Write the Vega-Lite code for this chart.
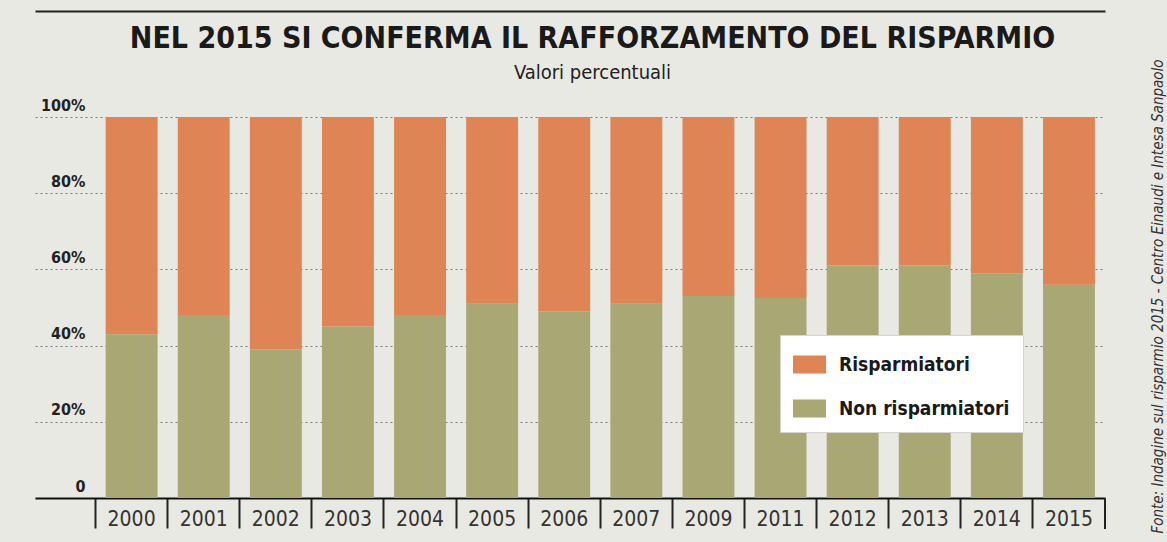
{
  "$schema": "https://vega.github.io/schema/vega-lite/v6.json",
  "autosize": "none",
  "width": 1070,
  "height": 381,
  "padding": {"left": 35, "top": 117, "right": 62, "bottom": 44},
  "background": "#e9e9e3",
  "config": {"view": {"stroke": null}, "font": "DejaVu Sans Condensed"},
  "data": {
    "values": [
      {"anno": "2000", "gruppo": "Non risparmiatori", "ord": 1, "valore": 43},
      {"anno": "2000", "gruppo": "Risparmiatori", "ord": 2, "valore": 57},
      {"anno": "2001", "gruppo": "Non risparmiatori", "ord": 1, "valore": 48},
      {"anno": "2001", "gruppo": "Risparmiatori", "ord": 2, "valore": 52},
      {"anno": "2002", "gruppo": "Non risparmiatori", "ord": 1, "valore": 39},
      {"anno": "2002", "gruppo": "Risparmiatori", "ord": 2, "valore": 61},
      {"anno": "2003", "gruppo": "Non risparmiatori", "ord": 1, "valore": 45},
      {"anno": "2003", "gruppo": "Risparmiatori", "ord": 2, "valore": 55},
      {"anno": "2004", "gruppo": "Non risparmiatori", "ord": 1, "valore": 48},
      {"anno": "2004", "gruppo": "Risparmiatori", "ord": 2, "valore": 52},
      {"anno": "2005", "gruppo": "Non risparmiatori", "ord": 1, "valore": 51},
      {"anno": "2005", "gruppo": "Risparmiatori", "ord": 2, "valore": 49},
      {"anno": "2006", "gruppo": "Non risparmiatori", "ord": 1, "valore": 49},
      {"anno": "2006", "gruppo": "Risparmiatori", "ord": 2, "valore": 51},
      {"anno": "2007", "gruppo": "Non risparmiatori", "ord": 1, "valore": 51},
      {"anno": "2007", "gruppo": "Risparmiatori", "ord": 2, "valore": 49},
      {"anno": "2009", "gruppo": "Non risparmiatori", "ord": 1, "valore": 53},
      {"anno": "2009", "gruppo": "Risparmiatori", "ord": 2, "valore": 47},
      {"anno": "2011", "gruppo": "Non risparmiatori", "ord": 1, "valore": 52.5},
      {"anno": "2011", "gruppo": "Risparmiatori", "ord": 2, "valore": 47.5},
      {"anno": "2012", "gruppo": "Non risparmiatori", "ord": 1, "valore": 61},
      {"anno": "2012", "gruppo": "Risparmiatori", "ord": 2, "valore": 39},
      {"anno": "2013", "gruppo": "Non risparmiatori", "ord": 1, "valore": 61},
      {"anno": "2013", "gruppo": "Risparmiatori", "ord": 2, "valore": 39},
      {"anno": "2014", "gruppo": "Non risparmiatori", "ord": 1, "valore": 59},
      {"anno": "2014", "gruppo": "Risparmiatori", "ord": 2, "valore": 41},
      {"anno": "2015", "gruppo": "Non risparmiatori", "ord": 1, "valore": 56},
      {"anno": "2015", "gruppo": "Risparmiatori", "ord": 2, "valore": 44}
    ]
  },
  "layer": [
    {
      "mark": {"type": "bar", "width": {"band": 0.72}},
      "encoding": {
        "x": {
          "field": "anno",
          "type": "nominal",
          "sort": null,
          "scale": {"paddingInner": 0, "paddingOuter": 0.42, "align": 1},
          "axis": {
            "title": null,
            "orient": "bottom",
            "domainColor": "#111111",
            "domainWidth": 2,
            "ticks": true,
            "tickColor": "#222222",
            "tickWidth": 2,
            "tickSize": 30,
            "bandPosition": 0,
            "labelFont": "DejaVu Sans Condensed",
            "labelFontSize": 21,
            "labelColor": "#333333",
            "labelAngle": 0,
            "labelAlign": "center",
            "labelDx": 36,
            "labelBaseline": "alphabetic",
            "labelPadding": -3,
            "grid": false
          }
        },
        "y": {
          "field": "valore",
          "type": "quantitative",
          "stack": "zero",
          "scale": {"domain": [0, 100]},
          "axis": {
            "title": "Valori percentuali",
            "titleAngle": 0,
            "titleX": 557,
            "titleY": -39,
            "titleAlign": "center",
            "titleBaseline": "alphabetic",
            "titleFont": "DejaVu Sans Condensed",
            "titleFontSize": 20,
            "titleFontWeight": "normal",
            "titleColor": "#222222",
            "values": [0, 20, 40, 60, 80, 100],
            "labelExpr": "datum.value == 0 ? '0' : datum.value + '%'",
            "grid": true,
            "gridDash": [2, 3],
            "gridColor": "#777777",
            "gridWidth": 1.2,
            "domain": false,
            "ticks": false,
            "labelFont": "DejaVu Sans Condensed",
            "labelFontSize": 16,
            "labelFontWeight": "bold",
            "labelColor": "#222222",
            "labelAlign": "right",
            "labelBaseline": "alphabetic",
            "labelPadding": -50,
            "labelOffset": -7
          }
        },
        "color": {
          "field": "gruppo",
          "type": "nominal",
          "scale": {"domain": ["Risparmiatori", "Non risparmiatori"], "range": ["#de8455", "#a9a773"]},
          "legend": {
            "title": null,
            "orient": "none",
            "legendX": 745,
            "legendY": 218,
            "fillColor": "#ffffff",
            "strokeColor": "#d6d6d0",
            "padding": 13,
            "symbolType": "M-1,-0.55L1,-0.55L1,0.55L-1,0.55Z",
            "symbolSize": 1089,
            "symbolStrokeWidth": 0,
            "symbolOpacity": 1,
            "labelFont": "DejaVu Sans Condensed",
            "labelFontSize": 19,
            "labelFontWeight": "bold",
            "labelColor": "#1a1a1a",
            "labelOffset": 13,
            "labelLimit": 300,
            "rowPadding": 17
          }
        },
        "order": {"field": "ord", "type": "quantitative"}
      }
    },
    {
      "mark": {"type": "rule", "color": "#222222", "strokeWidth": 2},
      "encoding": {
        "x": {
          "datum": "2015",
          "bandPosition": 1,
          "axis": {
            "orient": "top",
            "offset": 106,
            "title": "NEL 2015 SI CONFERMA IL RAFFORZAMENTO DEL RISPARMIO",
            "titleX": 557,
            "titleY": 36,
            "titleAlign": "center",
            "titleBaseline": "alphabetic",
            "titleAngle": 0,
            "titleFont": "DejaVu Sans Condensed",
            "titleFontSize": 30,
            "titleFontWeight": "bold",
            "titleColor": "#1a1a1a",
            "labels": false,
            "ticks": false,
            "domain": true,
            "domainColor": "#222222",
            "domainWidth": 2,
            "grid": false
          }
        },
        "y": {
          "datum": 0,
          "axis": {
            "orient": "right",
            "title": "Fonte: Indagine sul risparmio 2015 - Centro Einaudi e Intesa Sanpaolo",
            "titleAngle": 270,
            "titleFont": "DejaVu Sans Condensed",
            "titleFontStyle": "italic",
            "titleFontWeight": "normal",
            "titleFontSize": 15,
            "titleColor": "#333333",
            "titleX": 52,
            "titleY": 179,
            "titleAlign": "center",
            "titleBaseline": "middle",
            "labels": false,
            "ticks": false,
            "domain": false,
            "grid": false
          }
        },
        "y2": {"datum": -8}
      }
    }
  ],
  "resolve": {"axis": {"x": "independent", "y": "independent"}}
}
